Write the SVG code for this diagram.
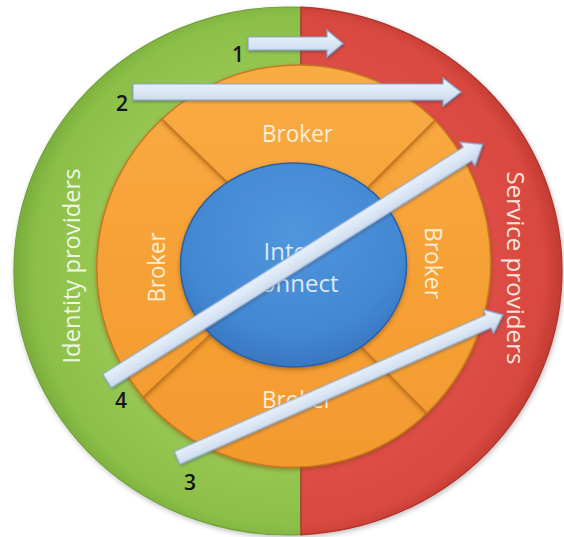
<svg xmlns="http://www.w3.org/2000/svg" width="564" height="537" viewBox="0 0 564 537">
  <defs>
    <radialGradient id="gGreen" cx="289" cy="271" r="274" gradientUnits="userSpaceOnUse">
      <stop offset="0.6" stop-color="#9ccb58"/>
      <stop offset="0.93" stop-color="#8cbf48"/>
      <stop offset="1" stop-color="#7aae3c"/>
    </radialGradient>
    <radialGradient id="gRed" cx="289" cy="271" r="274" gradientUnits="userSpaceOnUse">
      <stop offset="0.6" stop-color="#e1524a"/>
      <stop offset="0.93" stop-color="#d8483f"/>
      <stop offset="1" stop-color="#c13a32"/>
    </radialGradient>
    <linearGradient id="gOrange" x1="0" y1="60" x2="0" y2="470" gradientUnits="userSpaceOnUse">
      <stop offset="0" stop-color="#f9ac44"/>
      <stop offset="0.5" stop-color="#f6a136"/>
      <stop offset="1" stop-color="#f39a2e"/>
    </linearGradient>
    <radialGradient id="gBlue" cx="0.5" cy="0.35" r="0.7">
      <stop offset="0" stop-color="#5096dd"/>
      <stop offset="0.7" stop-color="#4287d2"/>
      <stop offset="1" stop-color="#3571bb"/>
    </radialGradient>
    <linearGradient id="gArrow" x1="0" y1="0" x2="0" y2="1">
      <stop offset="0" stop-color="#f0f5fc"/>
      <stop offset="0.5" stop-color="#dce7f5"/>
      <stop offset="1" stop-color="#bfd2ea"/>
    </linearGradient>
    <filter id="segShadow" x="-10%" y="-10%" width="120%" height="120%">
      <feDropShadow dx="0" dy="2" stdDeviation="2" flood-color="#7a3f00" flood-opacity="0.5"/>
    </filter>
    <filter id="arrowShadow" x="-5%" y="-40%" width="110%" height="180%">
      <feDropShadow dx="0.5" dy="1.5" stdDeviation="1.2" flood-color="#203048" flood-opacity="0.4"/>
    </filter>
    <filter id="ringShadow" x="-5%" y="-5%" width="110%" height="110%">
      <feDropShadow dx="1" dy="2" stdDeviation="2.5" flood-color="#000" flood-opacity="0.25"/>
    </filter>
  </defs>
  <style>
    .seg { fill: url(#gOrange); stroke: #c97823; stroke-width: 1.5; filter: url(#segShadow); }
    .lbl { font-family: "Open Sans", "Noto Sans", sans-serif; text-anchor: middle; }
    .broker { fill: #fdeed8; font-size: 23px; }
    .num { font-family: "Open Sans", "Noto Sans", sans-serif; font-size: 21px; font-weight: 600; fill: #141414; text-anchor: middle; }
    .arrow { fill: url(#gArrow); stroke: #8aa7cf; stroke-width: 1.2; filter: url(#arrowShadow); }
  </style>

  <!-- outer ring: identity side and service side -->
  <g id="outer-ring" filter="url(#ringShadow)">
    <path id="identity-providers" d="M301,7.3 A274 264 0 1 0 301,534.7 Z" fill="url(#gGreen)" stroke="#72a03a" stroke-width="1.2"/>
    <path id="service-providers" d="M301,7.3 A274 264 0 0 1 301,534.7 Z" fill="url(#gRed)" stroke="#ad372f" stroke-width="1.4"/>
  </g>
  <text class="lbl" transform="translate(80,266) rotate(-90)" font-size="23.5" fill="#eef7e2" textLength="195" lengthAdjust="spacingAndGlyphs">Identity providers</text>
  <text class="lbl" transform="translate(507,268) rotate(90)" font-size="23.5" fill="#fbe3de" textLength="193" lengthAdjust="spacingAndGlyphs">Service providers</text>

  <!-- broker segments -->
  <g id="broker-bottom">
    <path class="seg" d="M427,413 A194 194 0 0 1 143,397 L230,316 L340,325 Z"/>
  </g>
  <g id="broker-left">
    <path class="seg" d="M143,397 A203 203 0 0 1 162,119 L280,233 L230,316 Z"/>
  </g>
  <g id="broker-right">
    <path class="seg" d="M435,120 A210 210 0 0 1 427,413 L340,325 L330,225 Z"/>
  </g>
  <g id="broker-top">
    <path class="seg" d="M162,119 A198 198 0 0 1 435,120 L330,225 L280,233 Z"/>
  </g>
  <text class="lbl broker" x="297.5" y="142" textLength="71" lengthAdjust="spacingAndGlyphs">Broker</text>
  <text class="lbl broker" transform="translate(165,267.5) rotate(-90)" textLength="70" lengthAdjust="spacingAndGlyphs">Broker</text>
  <text class="lbl broker" transform="translate(425,263) rotate(90)" textLength="72" lengthAdjust="spacingAndGlyphs">Broker</text>
  <text class="lbl broker" x="297.5" y="408" textLength="71" lengthAdjust="spacingAndGlyphs">Broker</text>

  <!-- central interconnect -->
  <g id="interconnect">
    <ellipse cx="293.5" cy="265" rx="113" ry="102" fill="url(#gBlue)" stroke="#2c62a3" stroke-width="1.6" filter="url(#segShadow)"/>
    <text class="lbl" x="294" y="260" font-size="24" fill="#dde9f7">Inter-</text>
    <text class="lbl" x="294" y="292" font-size="24" fill="#dde9f7">connect</text>
  </g>

  <!-- numbered flows -->
  <g id="connectors">
    <path class="arrow" transform="translate(248,43.5)" d="M0,-6.5 H79 V-13.5 L95,0 L79,13.5 V6.5 H0 Z"/>
    <path class="arrow" transform="translate(133,92)" d="M0,-8 H310 V-14 L328,0 L310,14 V8 H0 Z"/>
    <path class="arrow" transform="translate(177,458) rotate(-23.7)" d="M0,-7 H340 V-13 L356,0 L340,13 V7 H0 Z"/>
    <path class="arrow" transform="translate(107,381) rotate(-32.2)" d="M0,-8 H426 V-14 L444,0 L426,14 V8 H0 Z"/>
  </g>
  <text class="num" x="238" y="62">1</text>
  <text class="num" x="122" y="111">2</text>
  <text class="num" x="190" y="490">3</text>
  <text class="num" x="121" y="408">4</text>
</svg>
